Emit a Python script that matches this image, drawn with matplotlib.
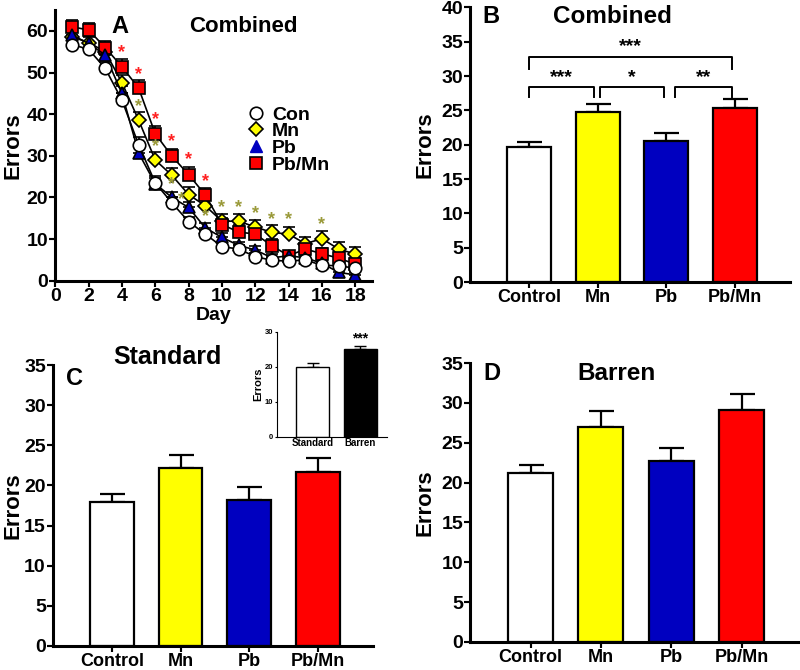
import matplotlib.pyplot as plt
import numpy as np
from matplotlib.lines import Line2D

plt.rcParams['font.family'] = ['Liberation Sans', 'DejaVu Sans']
plt.rcParams['font.weight'] = 'bold'
plt.rcParams['axes.labelweight'] = 'bold'

# panel A: errors per day
days = np.arange(1, 19)
con = [56.7, 55.6, 51.0, 43.4, 32.7, 23.5, 18.7, 14.2, 11.2, 8.2, 7.6, 5.8, 4.9, 4.7, 5.0, 3.7, 3.6, 3.0]
con_err = [1.5, 1.5, 1.6, 1.8, 1.8, 1.6, 1.3, 1.2, 1.0, 0.9, 1.0, 0.8, 0.8, 0.8, 1.0, 0.9, 1.0, 1.0]
mn = [58.6, 57.2, 55.0, 47.6, 38.6, 29.0, 25.3, 20.7, 18.0, 14.3, 14.3, 12.9, 11.6, 11.2, 8.9, 10.1, 7.6, 6.4]
mn_err = [1.6, 1.6, 1.7, 1.8, 1.9, 1.8, 1.8, 1.8, 1.6, 1.8, 1.8, 1.8, 1.8, 1.8, 1.6, 1.8, 1.8, 1.8]
pb = [59.0, 57.0, 54.2, 45.0, 30.7, 23.3, 20.0, 17.6, 12.7, 10.4, 8.5, 7.4, 5.5, 6.0, 5.5, 4.2, 2.0, 1.4]
pb_err = [1.5, 1.5, 1.6, 1.8, 1.6, 1.4, 1.3, 1.3, 1.1, 1.0, 0.9, 0.9, 0.8, 1.0, 0.8, 0.8, 0.8, 0.8]
pbmn = [61.0, 60.2, 56.0, 51.4, 46.3, 35.3, 29.9, 25.5, 20.6, 13.5, 11.7, 11.2, 8.4, 6.0, 7.6, 6.5, 5.4, 4.0]
pbmn_err = [1.6, 1.6, 1.6, 1.8, 1.8, 1.8, 1.8, 1.8, 1.6, 1.6, 1.6, 1.6, 1.6, 1.2, 1.4, 1.4, 1.4, 1.4]
red_star_x = [4, 5, 6, 7, 8, 9]
red_star_y = [54.8, 49.6, 38.7, 33.3, 29.1, 23.8]
olive_star_x = [5, 6, 7, 7.6, 9, 10, 11, 12, 13, 14, 16]
olive_star_y = [41.8, 32.3, 23.0, 19.5, 15.5, 17.6, 17.6, 16.2, 14.6, 14.6, 13.5]

# bar panels
groups = ['Control', 'Mn', 'Pb', 'Pb/Mn']
bar_colors = ['white', '#ffff00', '#0000c0', '#ff0000']
comb_mean = [19.7, 24.7, 20.5, 25.4]
comb_err = [0.7, 1.3, 1.2, 1.3]
std_mean = [17.9, 22.2, 18.2, 21.7]
std_err = [1.0, 1.6, 1.6, 1.7]
bar_mean = [21.2, 27.0, 22.7, 29.1]
bar_err = [1.0, 2.0, 1.7, 2.0]
env_labels = ['Standard', 'Barren']
env_mean = [20.0, 25.0]
env_err = [1.0, 1.0]

fig = plt.figure(figsize=(8, 6.7), dpi=100)

def style_axis(ax, lw=2.2, xsize=13, ysize=13):
	for s in ['top', 'right']:
		ax.spines[s].set_visible(False)
	for s in ['left', 'bottom']:
		ax.spines[s].set_linewidth(lw)
	ax.tick_params(width=lw * 0.7, length=4, pad=1)
	ax.tick_params(axis='x', labelsize=xsize)
	ax.tick_params(axis='y', labelsize=ysize)
	for lab in ax.get_xticklabels() + ax.get_yticklabels():
		lab.set_fontweight('bold')

# ---- A ----
axA = fig.add_axes([0.069, 0.581, 0.396, 0.404])
series = [(mn, mn_err, 'D', '#ffff00', 7, 'Mn'),
	(pbmn, pbmn_err, 's', '#ff0000', 8.5, 'Pb/Mn'),
	(pb, pb_err, '^', '#0000c0', 8, 'Pb'),
	(con, con_err, 'o', 'white', 9, 'Con')]
for vals, err, mk, col, ms, lab in series:
	vals = np.array(vals)
	axA.errorbar(days, vals, yerr=[np.zeros(len(vals)), err], fmt='-' + mk, color='black',
		mfc=col, mec='black', mew=1.2, ms=ms, lw=1.2, capsize=4, elinewidth=1.2, capthick=1.2, label=lab)
for x, y in zip(red_star_x, red_star_y):
	axA.text(x, y, '*', color='#ff2020', ha='center', va='center', fontsize=13)
for x, y in zip(olive_star_x, olive_star_y):
	axA.text(x, y, '*', color='#9a9a3a', ha='center', va='center', fontsize=13)
axA.set_xlim(0, 19)
axA.set_ylim(0, 65)
axA.set_xticks(range(0, 19, 2))
axA.set_yticks(range(0, 61, 10))
axA.set_xlabel('Day', fontsize=14, labelpad=2)
axA.set_ylabel('Errors', fontsize=16, labelpad=2)
style_axis(axA, xsize=14, ysize=14)
axA.text(3.9, 61, 'A', fontsize=17, ha='center', va='center')
axA.text(11.3, 61, 'Combined', fontsize=16, ha='center', va='center')
leg_h = [Line2D([], [], ls='', marker='o', mfc='white', mec='black', ms=9, mew=1.2),
	Line2D([], [], ls='', marker='D', mfc='#ffff00', mec='black', ms=7, mew=1.2),
	Line2D([], [], ls='', marker='^', mfc='#0000c0', mec='#0000c0', ms=9),
	Line2D([], [], ls='', marker='s', mfc='#ff0000', mec='black', ms=9, mew=1.2)]
axA.legend(leg_h, ['Con', 'Mn', 'Pb', 'Pb/Mn'], loc='upper left', bbox_to_anchor=(0.555, 0.71),
	frameon=False, handlelength=0.8, handletextpad=0.4, labelspacing=-0.05,
	prop={'weight': 'bold', 'size': 14})

def bar_panel(rect, means, errs, ylim, letter, letter_y, title, title_x, title_y, title_size, ylpad=4):
	ax = fig.add_axes(rect)
	x = np.arange(len(means))
	ax.bar(x, means, width=0.64, color=bar_colors, edgecolor='black', linewidth=1.6, zorder=2)
	ax.errorbar(x, means, yerr=[np.zeros(len(means)), errs], fmt='none', ecolor='black',
		elinewidth=1.6, capsize=9, capthick=1.6, zorder=1)
	ax.set_xticks(x)
	ax.set_xticklabels(groups)
	ax.set_xlim(-0.86, 3.8)
	ax.set_ylim(0, ylim)
	ax.set_yticks(range(0, ylim + 1, 5))
	ax.set_ylabel('Errors', fontsize=16, labelpad=ylpad)
	style_axis(ax, xsize=13, ysize=14)
	ax.text(-0.55, letter_y, letter, fontsize=17, ha='center', va='center', clip_on=False)
	ax.text(title_x, title_y, title, fontsize=title_size, ha='center', va='center', clip_on=False)
	return ax

axB = bar_panel([0.5875, 0.579, 0.4, 0.41], comb_mean, comb_err, 40, 'B', 38.6, 'Combined', 1.22, 38.6, 17.5)

# significance brackets
def bracket(ax, x1, x2, y, h, txt):
	ax.plot([x1, x1, x2, x2], [y - h, y, y, y - h], color='black', lw=1.4)
	ax.text((x1 + x2) / 2, y + 0.2, txt, ha='center', va='bottom', fontsize=14)
bracket(axB, 0.0, 2.95, 32.8, 1.8, '***')
bracket(axB, 0.0, 0.95, 28.4, 1.4, '***')
bracket(axB, 1.03, 1.97, 28.4, 1.4, '*')
bracket(axB, 2.13, 2.95, 28.4, 1.4, '**')

axC = bar_panel([0.066, 0.036, 0.4, 0.419], std_mean, std_err, 35, 'C', 33.3, 'Standard', 0.81, 36.0, 18, ylpad=0.5)
axD = bar_panel([0.5875, 0.042, 0.41, 0.416], bar_mean, bar_err, 35, 'D', 33.7, 'Barren', 1.22, 33.7, 17.5)

# inset
axI = fig.add_axes([0.346, 0.348, 0.1375, 0.157])
xi = np.arange(2)
axI.bar(xi, env_mean, width=0.68, color=['white', 'black'], edgecolor='black', linewidth=1.0, zorder=2)
axI.errorbar(xi, env_mean, yerr=[np.zeros(2), env_err], fmt='none', ecolor='black',
	elinewidth=1.0, capsize=4, capthick=1.0, zorder=1)
axI.set_xlim(-0.75, 1.55)
axI.set_ylim(0, 30)
axI.set_yticks([0, 10, 20, 30])
axI.set_xticks(xi)
axI.set_xticklabels(env_labels)
axI.set_ylabel('Errors', fontsize=8, labelpad=1)
for s in ['top', 'right']:
	axI.spines[s].set_visible(False)
axI.tick_params(labelsize=5.5, length=1.5, width=0.8, pad=1)
axI.tick_params(axis='x', labelsize=7, length=0)
for lab in axI.get_xticklabels() + axI.get_yticklabels():
	lab.set_fontweight('bold')
axI.text(1, 26.2, '***', ha='center', va='bottom', fontsize=10)

fig.savefig('out.png', dpi=100)
